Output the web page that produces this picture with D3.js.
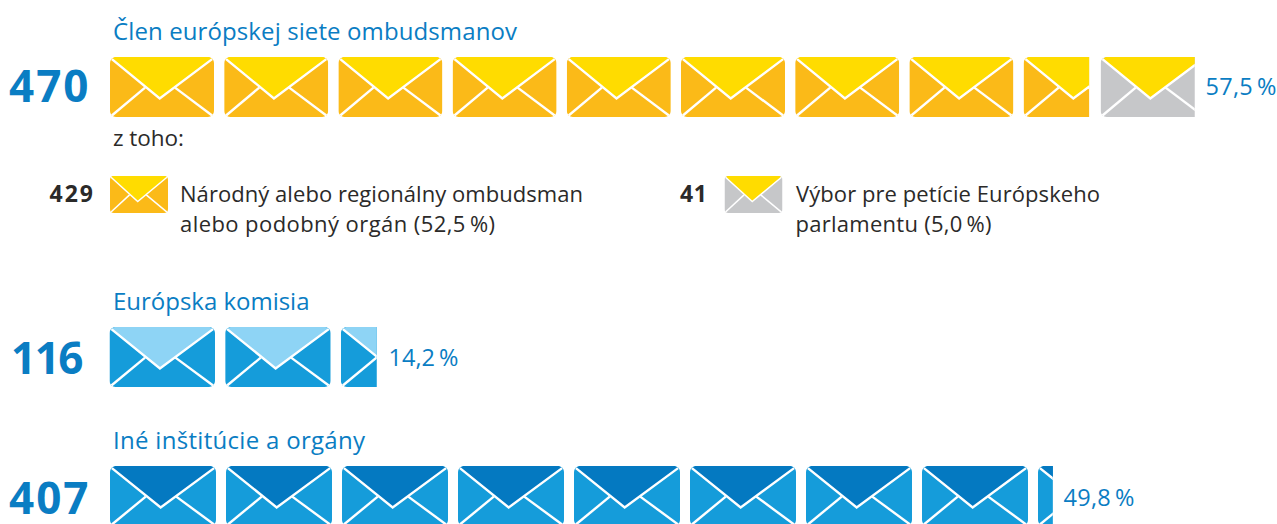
<!DOCTYPE html>
<html>
<head>
<meta charset="utf-8">
<script src="https://cdn.jsdelivr.net/npm/d3@7"></script>
<style>
html, body { margin: 0; padding: 0; background: #fff; overflow: hidden; }
text { font-family: "Open Sans", "Noto Sans", sans-serif; }
</style>
</head>
<body>
<script>
// Values
var categories = ["Člen európskej siete ombudsmanov", "Európska komisia", "Iné inštitúcie a orgány"];
var totals = [470, 116, 407];
var shares = ["57,5\u2009%", "14,2\u2009%", "49,8\u2009%"];

// how much of each envelope is visible
var nationalEnvelopes = [1, 1, 1, 1, 1, 1, 1, 1, 0.63];
var petitionEnvelopes = [0.905];
var commissionEnvelopes = [1, 1, 0.34];
var otherEnvelopes = [1, 1, 1, 1, 1, 1, 1, 1, 0.14];

var subCounts = [429, 41];
var subLabels = [
    ["Národný alebo regionálny ombudsman", "alebo podobný orgán (52,5\u2009%)"],
    ["Výbor pre petície Európskeho", "parlamentu (5,0\u2009%)"]
];

var blueText = "#0a7dc3";
var darkText = "#2b2a29";

var colors = {
    national: { body: "#fbba18", flap: "#ffdc00" },
    petition: { body: "#c6c7c9", flap: "#ffdc00" },
    commission: { body: "#159cda", flap: "#8ed4f5" },
    other: { body: "#159cda", flap: "#0479c1" }
};

var svg = d3.select("body").append("svg")
    .attr("width", 1277)
    .attr("height", 524);

var clipCount = 0;

// Draw one envelope at x,y. share = visible part of its width
function envelope(x, y, w, h, share, color, lineWidth) {
    var sx = d3.scaleLinear().domain([0, 1]).range([0, w]);
    var sy = d3.scaleLinear().domain([0, 1]).range([0, h]);
    var r = w > 80 ? 6 : 4;

    clipCount++;
    var clipId = "clip" + clipCount;
    svg.append("clipPath").attr("id", clipId)
        .append("rect")
        .attr("x", 0).attr("y", 0)
        .attr("width", sx(share)).attr("height", h);

    var g = svg.append("g")
        .attr("transform", "translate(" + x + "," + y + ")")
        .append("g")
        .attr("clip-path", "url(#" + clipId + ")");

    g.append("rect")
        .attr("width", w).attr("height", h)
        .attr("rx", r).attr("ry", r)
        .attr("fill", color.body);

    var line = d3.line().x(function(d) { return sx(d[0]); }).y(function(d) { return sy(d[1]); });

    // flap, its top corners follow the rounded body
    g.append("path")
        .attr("d", line([[0.02, 0.035], [0.05, 0], [0.95, 0], [0.98, 0.035], [0.478, 0.69]]) + "Z")
        .attr("fill", color.flap);

    // white folds
    var folds = [
        [[0.018, 0.035], [0.478, 0.69], [0.982, 0.035]],
        [[0.018, 0.975], [0.337, 0.51]],
        [[0.625, 0.51], [0.982, 0.975]]
    ];
    g.selectAll(".fold")
        .data(folds)
        .enter().append("path")
        .attr("d", line)
        .attr("fill", "none")
        .attr("stroke", "#fff")
        .attr("stroke-width", lineWidth);
}

// Draw a run of envelopes, returns the x where it ended
function envelopeRow(list, startX, y, w, h, gap, color) {
    var x = startX;
    list.forEach(function(share) {
        envelope(x, y, w, h, share, color, 2.4);
        x += w * share + gap;
    });
    return x - gap;
}

// length = width of the text in the reference
function label(x, y, str, size, fill, weight, length) {
    return svg.append("text")
        .attr("x", x)
        .attr("y", y)
        .attr("font-size", size)
        .attr("font-weight", weight)
        .attr("fill", fill)
        .attr("textLength", length)
        .attr("lengthAdjust", "spacing")
        .text(str);
}

// Row 1
label(113, 40, categories[0], 24, blueText, 400, 404);
label(9, 102, totals[0], 44, blueText, 700, 79.5);
var end = envelopeRow(nationalEnvelopes, 110, 57, 104, 60, 10.2, colors.national);
envelopeRow(petitionEnvelopes, end + 11.5, 57, 104, 60, 10.2, colors.petition);
label(1205.5, 95, shares[0], 23.5, blueText, 400, 71);

label(113, 146, "z toho:", 22.5, darkText, 400, 71);

// Sub items
label(49.5, 202, subCounts[0], 23, darkText, 700, 43.5);
envelope(110, 176, 58, 37, 1, colors.national, 1.5);
label(180, 202, subLabels[0][0], 22, darkText, 400, 403);
label(180, 232, subLabels[0][1], 22, darkText, 400, 315);

label(680, 202, subCounts[1], 23, darkText, 700, 27);
envelope(724.5, 176, 58, 37, 1, colors.petition, 1.5);
label(796, 202, subLabels[1][0], 22, darkText, 400, 304);
label(795.5, 232, subLabels[1][1], 22, darkText, 400, 196);

// Row 2
label(113, 310, categories[1], 24, blueText, 400, 196.5);
label(11, 374, totals[1], 44, blueText, 700, 72.5);
envelopeRow(commissionEnvelopes, 109.5, 327, 105.5, 60, 10.2, colors.commission);
label(388.5, 366, shares[1], 23.5, blueText, 400, 70);

// Row 3
label(113, 449, categories[2], 24, blueText, 400, 252);
label(9, 514, totals[2], 44, blueText, 700, 79.5);
envelopeRow(otherEnvelopes, 110, 466, 106, 60, 10, colors.other);
label(1063.5, 506, shares[2], 23.5, blueText, 400, 71);
</script>
</body>
</html>
